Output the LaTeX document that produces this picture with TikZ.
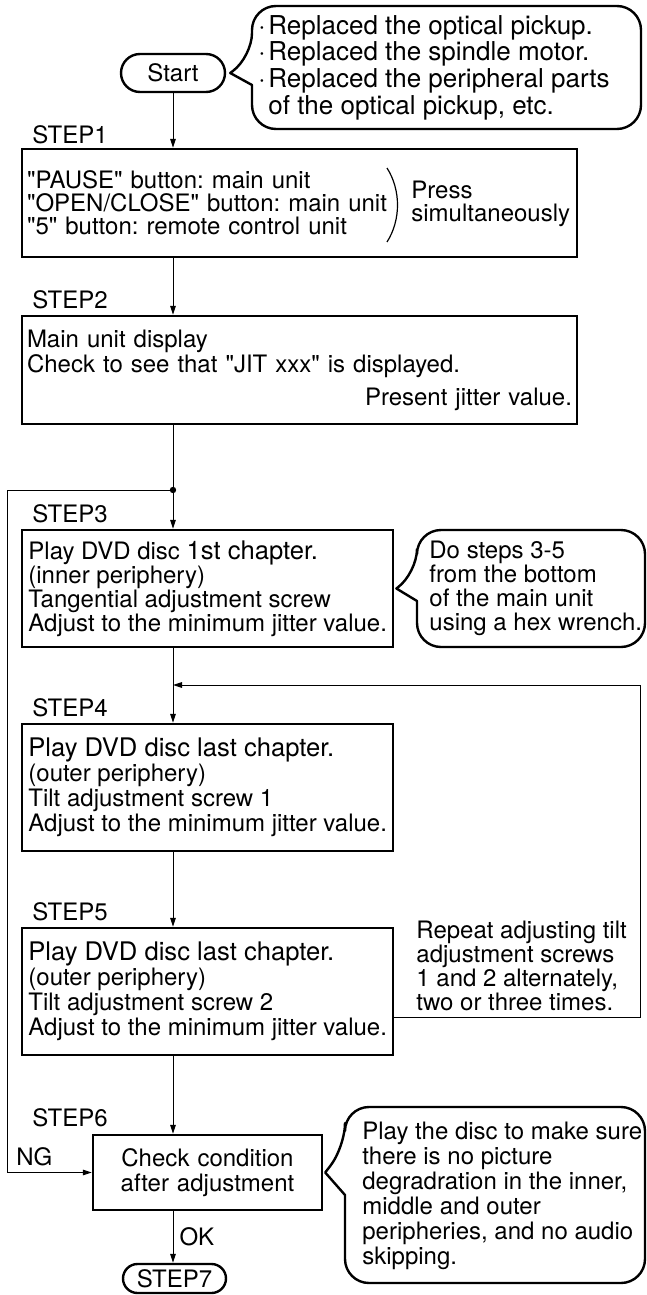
\documentclass[tikz,border=0pt]{standalone}
\usepackage{fontspec}
\setmainfont{TeX Gyre Heros}[Ligatures=TeXOff]
\usetikzlibrary{arrows.meta,positioning,calc}

\tikzset{
  stepbox/.style={draw,line width=1.2pt,inner xsep=2.5pt,inner ysep=0pt,align=left,font=\fontsize{12}{12.5}\selectfont\frenchspacing},
  termbox/.style={draw,line width=1.2pt,inner sep=0pt},
  steplabel/.style={anchor=base west,inner sep=0pt},
  flow/.style={-{Triangle[length=4.5pt,width=2.8pt]},line width=0.5pt},
  callout/.style={line width=1.2pt,line join=round},
  note/.style={anchor=west,align=left,inner sep=0pt},
}
\newcommand{\bigtxt}{\fontsize{12.8}{12}\selectfont}
\newcommand{\listdot}{\makebox[5pt][l]{\textperiodcentered}}

\begin{document}
\begin{tikzpicture}[x=0.5pt,y=-0.5pt,font=\fontsize{12}{12}\selectfont\frenchspacing]
\useasboundingbox (0,0) rectangle (647,1295);

% terminals
\node[termbox,minimum width=52pt,minimum height=19pt,rounded corners=9.5pt] (start) at (173,73) {Start};
\node[termbox,minimum width=51.5pt,minimum height=14.5pt,rounded corners=7.25pt] (s7) at (174.5,1278.5) {STEP7};

% steps
\node[stepbox,text width=272.5pt,minimum height=54pt,font=\fontsize{12}{11.5}\selectfont\frenchspacing] (s1) at (299.5,203)
  {"PAUSE" button: main unit\\"OPEN/CLOSE" button: main unit\\"5" button: remote control unit};
\node[stepbox,text width=272.5pt,minimum height=54pt] (s2) at (299.5,370)
  {Main unit display\\Check to see that "JIT xxx" is displayed.\\[4pt]\hspace*{\fill}Present jitter value.\hspace*{5pt}};
\node[stepbox,anchor=west,inner xsep=1.5pt,minimum width=185.5pt,minimum height=58.5pt,font=\fontsize{12}{12}\selectfont\frenchspacing] (s3) at (21,588.5)
  {Play DVD disc {\bigtxt 1st chapter.}\\(inner periphery)\\Tangential adjustment screw\\Adjust to the minimum jitter value.};
\node[stepbox,anchor=west,inner xsep=1.5pt,minimum width=185.5pt,minimum height=63.5pt] (s4) at (21,787.5)
  {{\bigtxt Play DVD disc last chapter.}\\(outer periphery)\\Tilt adjustment screw 1\\Adjust to the minimum jitter value.};
\node[stepbox,anchor=west,inner xsep=1.5pt,minimum width=185.5pt,minimum height=63.5pt] (s5) at (21,991.5)
  {{\bigtxt Play DVD disc last chapter.}\\(outer periphery)\\Tilt adjustment screw 2\\Adjust to the minimum jitter value.};
\node[stepbox,align=center,text width=110pt,inner xsep=2.25pt,minimum height=37.5pt] (s6) at (207.5,1172.5)
  {Check condition\\after adjustment};

\foreach \n/\y in {1/143.5,2/308.5,3/522.5,4/716.5,5/920.5,6/1126.5}
  \node[steplabel] (l\n) at (32,\y) {STEP\n};

% press simultaneously
\draw[line width=0.6pt] (387,168) .. controls (401,190) and (401,220) .. (387,242);
\node[note,font=\fontsize{12}{11.5}\selectfont] (press) at (411,203.5) {Press\\simultaneously};

% main flow
\coordinate (jn) at (173,490);
\coordinate (rp) at (173,685);
\draw[flow] (start) -- (start |- s1.north);
\draw[flow] (start |- s1.south) -- (start |- s2.north);
\draw[flow] (start |- s2.south) -- (start |- s3.north);
\draw[flow] (start |- s3.south) -- (start |- s4.north);
\draw[flow] (start |- s4.south) -- (start |- s5.north);
\draw[flow] (start |- s5.south) -- (start |- s6.north);
\draw[flow] (start |- s6.south) -- node[right=3pt,inner sep=0pt,pos=0.5] (ok) {OK} (start |- s7.north);
\fill (jn) circle (1.6pt);

% NG loop
\draw[flow] (jn) -- (7,490) |- (s6.west);
\node[anchor=base west,inner sep=0pt] (ng) at (16,1165.5) {NG};

% repeat loop
\draw[flow] ([yshift=-13pt]s5.east) -| (640,685) -- (rp);
\node[note] (rep) at (416,966) {Repeat adjusting tilt\\adjustment screws\\1 and 2 alternately,\\two or three times.};

% callouts
\draw[callout] (252,85) [rounded corners=12pt] -- (252,129) -- (641,129) -- (641,6) -- (252,6) -- (252,57)
  [sharp corners] -- ([xshift=2pt]start.east) -- cycle;
\node[note,font=\fontsize{13}{12}\selectfont] (c1) at (258,67.5) {\listdot Replaced the optical pickup.\\\listdot Replaced the spindle motor.\\
  \listdot Replaced the peripheral parts\\\hspace*{5pt}of the optical pickup, etc.};

\draw[callout] (417,601) [rounded corners=12pt] -- (417,647) -- (645,647) -- (645,530) -- (417,530) -- (417,573)
  [sharp corners] -- ([xshift=1pt]s3.east) -- cycle;
\node[note] (c3) at (429,588.5) {Do steps 3-5\\from the bottom\\of the main unit\\using a hex wrench.};

\draw[callout] (345,1195) [rounded corners=12pt] -- (345,1283) -- (645,1283) -- (645,1107) -- (345,1107) -- (345,1147)
  [sharp corners] -- ([xshift=1pt]s6.east) -- cycle;
\node[note,font=\fontsize{12}{12.5}\selectfont] (c6) at (362,1195.5) {Play the disc to make sure\\there is no picture\\
  degradration in the inner,\\middle and outer\\peripheries, and no audio\\skipping.};
\end{tikzpicture}
\end{document}
